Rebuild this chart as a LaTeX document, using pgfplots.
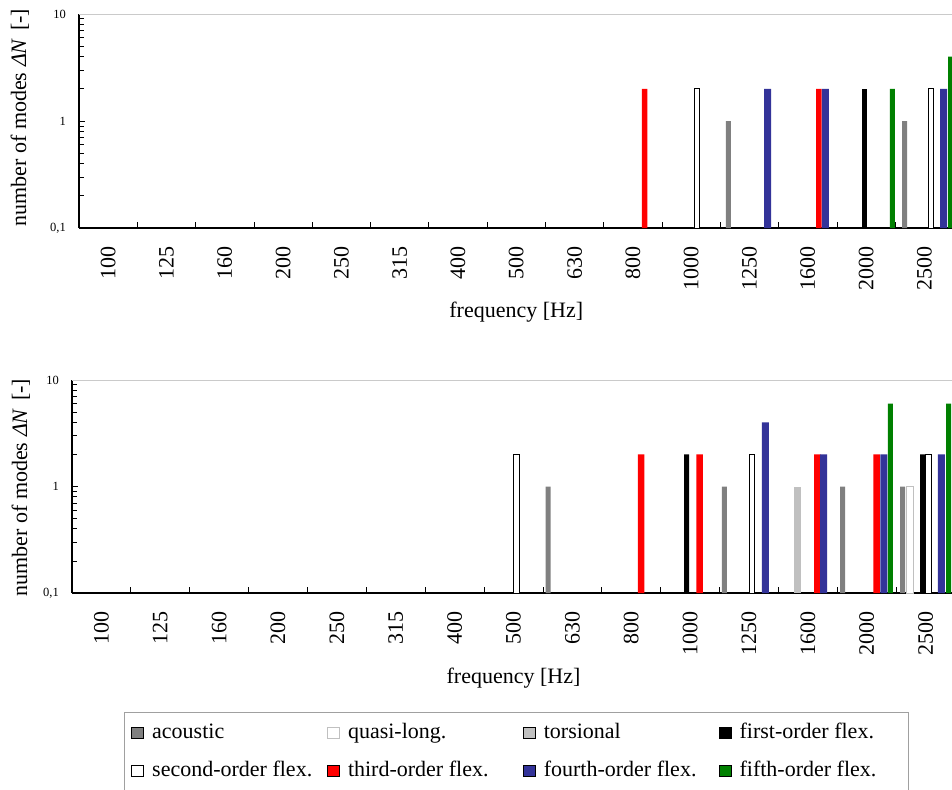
\documentclass[border=0pt]{standalone}
\usepackage{fontspec}
\setmainfont{Liberation Serif}
\usepackage{pgfplots}
\pgfplotsset{compat=1.18}
\definecolor{cAcou}{HTML}{808080}
\definecolor{cTors}{HTML}{C0C0C0}
\definecolor{cThird}{HTML}{FF0000}
\definecolor{cFourth}{HTML}{333399}
\definecolor{cFifth}{HTML}{008000}
\definecolor{cFrame}{HTML}{CACACA}
\definecolor{cLeg}{HTML}{A0A0A0}
\newcommand{\bigf}{\fontsize{22}{26}\selectfont}
\newcommand{\smallf}{\fontsize{12.5}{14}\selectfont}
\newcommand{\xl}[1]{#1\rule{18pt}{0pt}}
\newcommand{\yl}[1]{#1\rule{13pt}{0pt}}
\begin{document}
\begin{tikzpicture}
\useasboundingbox (0pt,0pt) rectangle (952pt,-789pt);
\clip (0pt,0pt) rectangle (952pt,-789pt);
% ---------------- top chart ----------------
\begin{axis}[at={(79pt,-228pt)}, anchor=south west,
  scale only axis, width=874.5pt, height=214pt,
  ymode=log, log origin=infty, ymin=0.1, ymax=10, xmin=0, xmax=15,
  enlargelimits=false,
  ybar, bar shift=0pt,
  axis x line*=bottom, axis y line*=left,
  axis line style={black, line width=1.2pt},
  xtick={0,1,...,15},
  x tick label as interval,
  xticklabels={\xl{100},\xl{125},\xl{160},\xl{200},\xl{250},\xl{315},\xl{400},\xl{500},\xl{630},\xl{800},\xl{1000},\xl{1250},\xl{1600},\xl{2000},\xl{2500}},
  ytick={0.1,1,10},
  yticklabels={\yl{0,1},\yl{1},\yl{10}},
  minor ytick={0.2,0.3,0.4,0.5,0.6,0.7,0.8,0.9,2,3,4,5,6,7,8,9},
  tick align=inside,
  major tick length=6pt, minor tick length=5pt,
  tick style={black, line width=0.8pt},
  xticklabel style={rotate=90, anchor=east, inner sep=0pt, font=\bigf},
  yticklabel style={anchor=east, inner sep=0pt, font=\smallf},
  label style={font=\bigf},
  xlabel={frequency [Hz]},
  ylabel={number of modes \textit{ΔN}\hspace{0.35em}[-]},
  xlabel style={at={(axis description cs:0.5,-0.392)}, anchor=center},
  ylabel style={at={(axis description cs:-0.0675,0.516)}, anchor=center}]
\addplot[bar shift=0pt, bar width=5pt, fill=cAcou, draw=none] coordinates {(11.14,1) (14.16,1)};
\addplot[bar shift=0pt, bar width=5pt, fill=white, draw=black, line width=0.8pt] coordinates {(10.59,2) (14.61,2)};
\addplot[bar shift=0pt, bar width=5pt, fill=black, draw=none] coordinates {(13.47,2)};
\addplot[bar shift=0pt, bar width=5.5pt, fill=cThird, draw=none] coordinates {(9.70,2) (12.69,2)};
\addplot[bar shift=0pt, bar width=7pt, fill=cFourth, draw=none] coordinates {(11.81,2) (12.80,2) (14.83,2)};
\addplot[bar shift=0pt, bar width=5pt, fill=cFifth, draw=none] coordinates {(13.95,2) (14.95,4)};
\draw[cFrame, line width=1.8pt] (rel axis cs:0,1) -- (rel axis cs:1,1);
\end{axis}
% ---------------- bottom chart ----------------
\begin{axis}[at={(72pt,-593pt)}, anchor=south west,
  scale only axis, width=883pt, height=213pt,
  ymode=log, log origin=infty, ymin=0.1, ymax=10, xmin=0, xmax=15,
  enlargelimits=false,
  ybar, bar shift=0pt,
  axis x line*=bottom, axis y line*=left,
  axis line style={black, line width=1.2pt},
  xtick={0,1,...,15},
  x tick label as interval,
  xticklabels={\xl{100},\xl{125},\xl{160},\xl{200},\xl{250},\xl{315},\xl{400},\xl{500},\xl{630},\xl{800},\xl{1000},\xl{1250},\xl{1600},\xl{2000},\xl{2500}},
  ytick={0.1,1,10},
  yticklabels={\yl{0,1},\yl{1},\yl{10}},
  minor ytick={0.2,0.3,0.4,0.5,0.6,0.7,0.8,0.9,2,3,4,5,6,7,8,9},
  tick align=inside,
  major tick length=6pt, minor tick length=5pt,
  tick style={black, line width=0.8pt},
  xticklabel style={rotate=90, anchor=east, inner sep=0pt, font=\bigf},
  yticklabel style={anchor=east, inner sep=0pt, font=\smallf},
  label style={font=\bigf},
  xlabel={frequency [Hz]},
  ylabel={number of modes \textit{ΔN}\hspace{0.35em}[-]},
  xlabel style={at={(axis description cs:0.5,-0.398)}, anchor=center},
  ylabel style={at={(axis description cs:-0.0578,0.495)}, anchor=center},
  legend image code/.code={\draw[#1] (0pt,-6pt) rectangle (12pt,5pt);},
  legend columns=4,
  legend cell align=left,
  legend style={at={(axis description cs:0.0589,-0.5573)}, anchor=north west,
    draw=cLeg, line width=0.8pt, inner xsep=7pt, inner ysep=8pt, row sep=13pt,
    font=\bigf,
    nodes={inner sep=2pt, text height=16pt, text depth=5pt},
    /tikz/every odd column/.append style={column sep=6pt},
    /tikz/every even column/.append style={column sep=13pt}}]
\addplot[bar shift=0pt, bar width=5pt, fill=cAcou, draw=none] coordinates {(8.09,1) (11.08,1) (13.09,1) (14.11,1)};
\addlegendentry{\makebox[160pt][l]{acoustic}}
\addplot[bar shift=0pt, bar width=7pt, fill=white, draw=cTors, line width=0.8pt] coordinates {(14.23,1)};
\addlegendentry{\makebox[160pt][l]{quasi-long.}}
\addplot[bar shift=0pt, bar width=7pt, fill=cTors, draw=none] coordinates {(12.32,1)};
\addlegendentry{\makebox[160pt][l]{torsional}}
\addplot[bar shift=0pt, bar width=5pt, fill=black, draw=none] coordinates {(10.44,2) (14.45,2)};
\addlegendentry{\makebox[160pt][l]{first-order flex.}}
\addplot[bar shift=0pt, bar width=5.5pt, fill=white, draw=black, line width=0.8pt] coordinates {(7.55,2) (11.55,2) (14.55,2)};
\addlegendentry{\makebox[160pt][l]{second-order flex.}}
\addplot[bar shift=0pt, bar width=6.5pt, fill=cThird, draw=none] coordinates {(9.67,2) (10.66,2) (12.66,2) (13.67,2)};
\addlegendentry{\makebox[160pt][l]{third-order flex.}}
\addplot[bar shift=0pt, bar width=7pt, fill=cFourth, draw=none] coordinates {(11.78,4) (12.77,2) (13.79,2) (14.77,2)};
\addlegendentry{\makebox[160pt][l]{fourth-order flex.}}
\addplot[bar shift=0pt, bar width=5pt, fill=cFifth, draw=none] coordinates {(13.90,6) (14.89,6)};
\addlegendentry{\makebox[160pt][l]{fifth-order flex.}}
\draw[cFrame, line width=1.8pt] (rel axis cs:0,1) -- (rel axis cs:1,1);
\end{axis}
\end{tikzpicture}
\end{document}
